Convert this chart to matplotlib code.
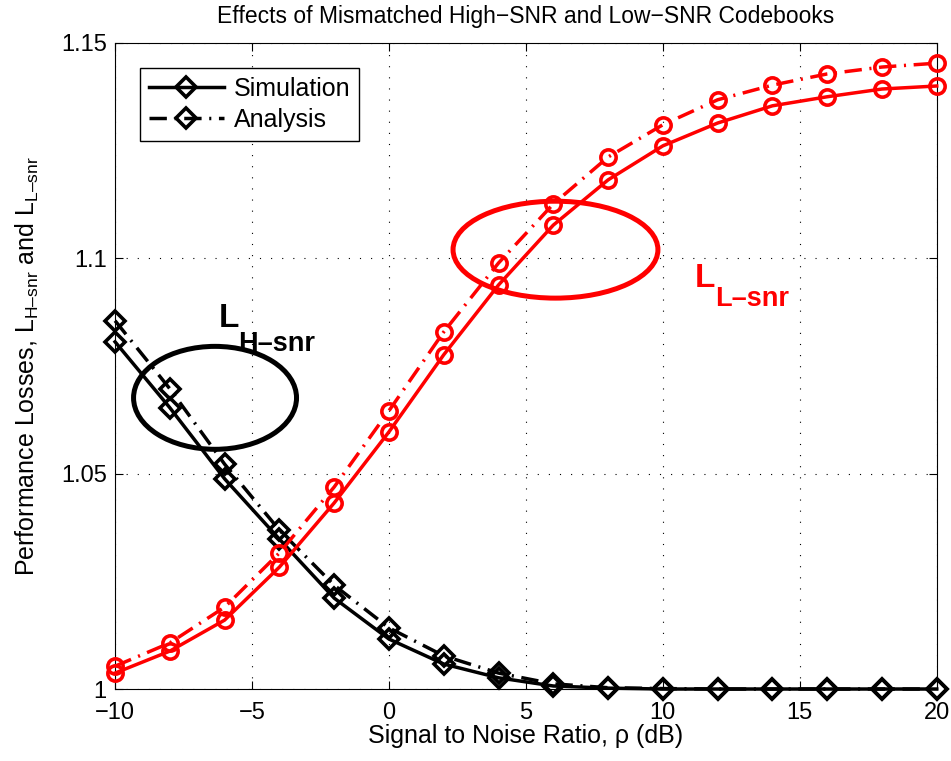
import numpy as np
import matplotlib
matplotlib.use('Agg')
import matplotlib.pyplot as plt
from matplotlib.patches import Ellipse

plt.rcParams['font.family'] = ['Liberation Sans', 'DejaVu Sans']
plt.rcParams['mathtext.fontset'] = 'custom'
plt.rcParams['mathtext.rm'] = 'Liberation Sans'
plt.rcParams['mathtext.bf'] = 'Liberation Sans:bold'

# SNR in dB
snr = [-10, -8, -6, -4, -2, 0, 2, 4, 6, 8, 10, 12, 14, 16, 18, 20]

# high-SNR codebook loss
h_sim = [1.0806, 1.0653, 1.0488, 1.0348, 1.0211, 1.0116, 1.0058, 1.0026, 1.0007,
         1.0002, 1.0, 1.0, 1.0, 1.0, 1.0, 1.0]
h_ana = [1.0855, 1.0697, 1.0522, 1.0369, 1.0241, 1.0142, 1.0077, 1.0037, 1.0012,
         1.0003, 1.0001, 1.0, 1.0, 1.0, 1.0, 1.0]

# low-SNR codebook loss
l_sim = [1.0037, 1.0088, 1.0160, 1.0283, 1.0432, 1.0597, 1.0776, 1.0938, 1.1077,
         1.1182, 1.1261, 1.1314, 1.1354, 1.1375, 1.1393, 1.1400]
l_ana = [1.0053, 1.0107, 1.0190, 1.0316, 1.0469, 1.0646, 1.0829, 1.0989, 1.1126,
         1.1235, 1.1310, 1.1368, 1.1402, 1.1428, 1.1444, 1.1453]

dashdot = (0, (5, 2.2, 0.6, 2.2))

fig = plt.figure(figsize=(9.51, 7.61), dpi=100)
ax = fig.add_axes([0.121, 0.0946, 0.864, 0.849])

ax.plot(snr, h_sim, '-', color='black', lw=2.5, marker='D', ms=10,
        mfc='none', mew=2.6, label='Simulation', clip_on=False, zorder=3)
ax.plot(snr, h_ana, color='black', lw=2.5, linestyle=dashdot, marker='D', ms=10,
        mfc='none', mew=2.6, label='Analysis', clip_on=False, zorder=3)
ax.plot(snr, l_sim, '-', color='red', lw=2.5, marker='o', ms=11,
        mfc='none', mew=2.6, clip_on=False, zorder=3)
ax.plot(snr, l_ana, color='red', lw=2.5, linestyle=dashdot, marker='o', ms=11,
        mfc='none', mew=2.6, clip_on=False, zorder=3)

ax.add_patch(Ellipse((-6.35, 1.0676), 5.95, 0.0239, fill=False, ec='black', lw=3.6))
ax.add_patch(Ellipse((6.08, 1.1020), 7.48, 0.0225, fill=False, ec='red', lw=3.6))

# curve labels: big L plus subscript
ax.text(-6.20, 1.0841, 'L', fontsize=24, fontweight='bold', color='black',
        ha='left', va='baseline')
ax.text(-5.51, 1.0785, 'H\u2013snr', fontsize=19.5, fontweight='bold', color='black',
        ha='left', va='baseline')
ax.text(11.17, 1.0933, 'L', fontsize=24, fontweight='bold', color='red',
        ha='left', va='baseline')
ax.text(11.90, 1.0889, 'L\u2013snr', fontsize=19.5, fontweight='bold', color='red',
        ha='left', va='baseline')

ax.set_xlim(-10, 20)
ax.set_ylim(1.0, 1.15)
ax.set_xticks([-10, -5, 0, 5, 10, 15, 20])
ax.set_xticklabels(['\u221210', '\u22125', '0', '5', '10', '15', '20'])
ax.set_yticks([1.0, 1.05, 1.1, 1.15])
ax.set_yticklabels(['1', '1.05', '1.1', '1.15'])
ax.tick_params(direction='in', top=True, right=True, labelsize=17, length=6)
ax.tick_params(axis='x', pad=9)
ax.tick_params(axis='y', pad=6)
ax.grid(True, linestyle=(0, (1, 9)), color='black', lw=0.8)

ax.set_title('Effects of Mismatched High\u2212SNR and Low\u2212SNR Codebooks',
             fontsize=16.5, pad=14)
ax.set_xlabel('Signal to Noise Ratio, \u03c1 (dB)', fontsize=18, labelpad=0)
ax.set_ylabel('Performance Losses, L$_{\\mathrm{H\u2013snr}}$ and L$_{\\mathrm{L\u2013snr}}$',
              fontsize=18, labelpad=14)

leg = ax.legend(loc='upper left', fontsize=18, fancybox=False, framealpha=1,
                edgecolor='black', handlelength=3.0, borderaxespad=1.0,
                borderpad=0.35, labelspacing=0.3, handletextpad=0.4)
leg.get_frame().set_linewidth(1.0)

fig.savefig('out.png', dpi=100)
